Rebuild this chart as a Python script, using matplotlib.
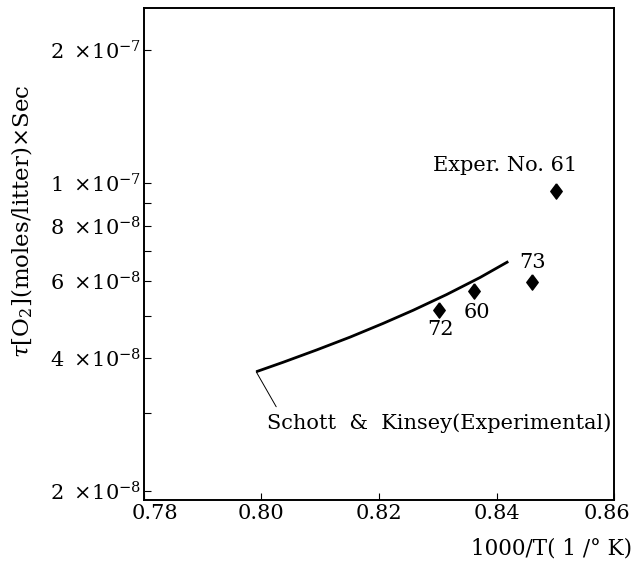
import numpy as np
import matplotlib
matplotlib.use("Agg")
import matplotlib.pyplot as plt
import matplotlib.transforms as mtransforms
from matplotlib.ticker import FixedLocator, NullFormatter

plt.rcParams['font.family'] = ['DejaVu Serif']
plt.rcParams['mathtext.fontset'] = 'dejavuserif'

# === DATA ===
# Schott & Kinsey experimental curve
curve_x = [0.7991, 0.8037, 0.8094, 0.8151, 0.8207, 0.8258, 0.8315, 0.8372, 0.8420]
curve_y = [3.73e-8, 3.92e-8, 4.18e-8, 4.47e-8, 4.80e-8, 5.14e-8, 5.58e-8, 6.10e-8, 6.63e-8]

# experiment points
exp_no = ["72", "60", "73", "61"]
exp_x = [0.8302, 0.8362, 0.8460, 0.8501]
exp_y = [5.15e-8, 5.68e-8, 5.96e-8, 9.57e-8]

y_major = [2e-8, 4e-8, 6e-8, 8e-8, 1e-7, 2e-7]
y_major_labels = [r"$2\ \times\!10^{-8}$", r"$4\ \times\!10^{-8}$", r"$6\ \times\!10^{-8}$",
                  r"$8\ \times\!10^{-8}$", r"$1\ \times\!10^{-7}$", r"$2\ \times\!10^{-7}$"]
y_minor = [3e-8, 5e-8, 7e-8, 9e-8]
x_ticks = [0.78, 0.80, 0.82, 0.84, 0.86]
x_tick_labels = ["0.78", "0.80", "0.82", "0.84", "0.86"]

# === FIGURE ===
fig = plt.figure(figsize=(6.37, 5.66), dpi=100)
ax = fig.add_axes([0.226, 0.1166, 0.738, 0.8694])

ax.plot(curve_x, curve_y, color="black", lw=2.0, solid_capstyle="butt")

diamond = [(0, 1), (0.75, 0), (0, -1), (-0.75, 0), (0, 1)]
ax.plot(exp_x, exp_y, linestyle="none", marker=diamond, ms=11,
        color="black")

ax.set_yscale("log")
ax.set_xlim(0.78, 0.86)
ax.set_ylim(1.91e-8, 2.49e-7)

ax.yaxis.set_major_locator(FixedLocator(y_major))
ax.yaxis.set_minor_locator(FixedLocator(y_minor))
ax.set_yticklabels(y_major_labels)
ax.yaxis.set_minor_formatter(NullFormatter())
ax.set_xticks(x_ticks)
ax.set_xticklabels(x_tick_labels)

ax.tick_params(axis="both", which="both", direction="in", length=5, width=0.8,
               labelsize=15)
ax.tick_params(axis="y", pad=2)
ax.tick_params(axis="x", pad=3)
for s in ax.spines.values():
    s.set_linewidth(1.4)

# first and last x labels are pushed inside like in the print
labels = ax.get_xticklabels()
labels[0].set_transform(labels[0].get_transform() +
                        mtransforms.ScaledTranslation(0.11, 0, fig.dpi_scale_trans))
labels[-1].set_transform(labels[-1].get_transform() +
                         mtransforms.ScaledTranslation(-0.07, 0, fig.dpi_scale_trans))

# point labels
offsets = {"72": (2, -20), "60": (3, -21), "73": (1, 19)}
for n, xv, yv in zip(exp_no, exp_x, exp_y):
    if n == "61":
        continue
    dx, dy = offsets[n]
    ax.annotate(n, (xv, yv), xytext=(dx, dy), textcoords="offset pixels",
                ha="center", va="center", fontsize=15)
ax.annotate("Exper. No. 61", (exp_x[3], exp_y[3]), xytext=(-51, 26),
            textcoords="offset pixels", ha="center", va="center", fontsize=15)

# curve label with leader line
ax.annotate("", (curve_x[0], curve_y[0]), xytext=(20, -35),
            textcoords="offset pixels",
            arrowprops=dict(arrowstyle="-", lw=0.7, color="black",
                            shrinkA=0, shrinkB=0))
ax.annotate("Schott  &  Kinsey(Experimental)", (curve_x[0], curve_y[0]),
            xytext=(11, -51), textcoords="offset pixels",
            ha="left", va="center", fontsize=15)

fig.text(22 / 637, 1 - 221 / 566, r"$\tau$[O$_2$](moles/litter)$\times$Sec",
         rotation=90, ha="center", va="center", fontsize=16.5)
fig.text(0.992, 1 - 548 / 566, "1000/T( 1 /° K)", ha="right", va="center",
         fontsize=15.5)

fig.savefig("out.png", dpi=100)
